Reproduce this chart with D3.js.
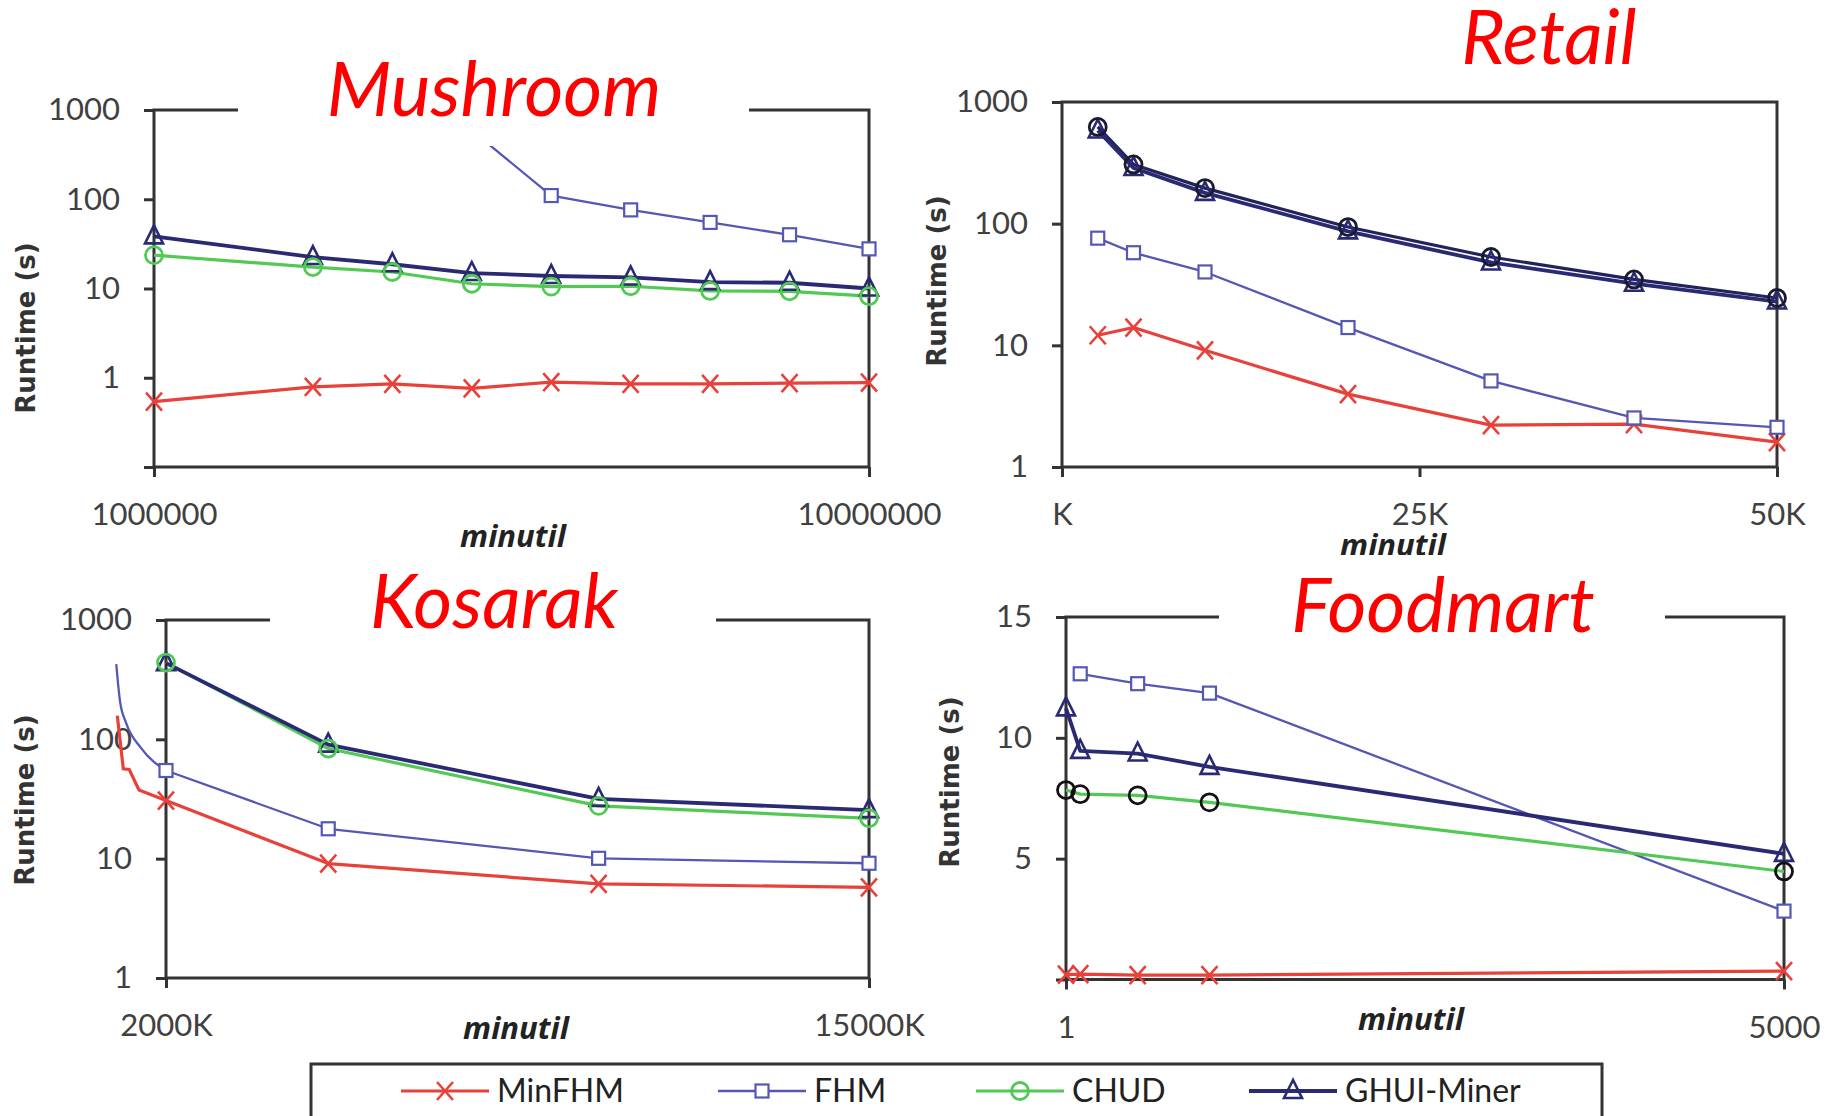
<!DOCTYPE html>
<html>
<head>
<meta charset="utf-8">
<script src="https://cdn.jsdelivr.net/npm/d3@7"></script>
<style>
  body { margin: 0; background: #fff; }
  svg { display: block; }
</style>
</head>
<body>
<svg id="chart" width="1835" height="1116"></svg>
<script>
// ============= Data =============

const SERIES = ["MinFHM", "FHM", "CHUD", "GHUI-Miner"];

// Mushroom (minutil, runtime in s, log y)
const mushroomX = [1000000, 3000000, 4000000, 5000000, 6000000, 7000000, 8000000, 9000000, 10000000];
const mushroomMinFHM = [0.54, 0.79, 0.855, 0.76, 0.895, 0.855, 0.855, 0.87, 0.88];
const mushroomFHM = [null, null, null, 590, 110, 76, 55, 40, 27.8];
const mushroomCHUD = [23.6, 17.4, 15.3, 11.3, 10.5, 10.6, 9.4, 9.3, 8.2];
const mushroomGHUI = [38.4, 22.5, 18.7, 14.9, 13.8, 13.3, 11.8, 11.6, 10];
const mushroomXTicks = [1000000, 10000000];
const mushroomXTickLabels = ["1000000", "10000000"];

// Retail
const retailX = [2500, 5000, 10000, 20000, 30000, 40000, 50000];
const retailMinFHM = [12.1, 14.0, 9.1, 3.97, 2.21, 2.25, 1.6];
const retailFHM = [76, 57.7, 40.1, 14.0, 5.1, 2.53, 2.12];
const retailCHUD = [624, 307, 196, 93.8, 53.2, 34.8, 24.5];
const retailGHUI = [583, 287, 179, 86.5, 48, 32.1, 22.9];
const retailXTicks = [0, 25000, 50000];
const retailXTickLabels = ["K", "25K", "50K"];

// Kosarak (minutil in K)
const kosarakX = [2000, 5000, 10000, 15000];
const kosarakMinFHM = [30.7, 9.1, 6.15, 5.75];
const kosarakFHM = [54.8, 17.8, 10.07, 9.15];
const kosarakCHUD = [440, 83.7, 27.7, 21.8];
const kosarakGHUI = [435, 90.3, 31.7, 25.5];
// leftover strokes that run past the left axis
const kosarakMinFHMTailX = [1100, 1210, 1320, 1500, 2000];
const kosarakMinFHMTail = [158, 56.7, 55.9, 37.6, 30.7];
const kosarakFHMTailX = [1080, 1150, 1260, 1530, 2000];
const kosarakFHMTail = [426, 208, 138, 85.5, 54.8];
const kosarakXTicks = [2000, 15000];
const kosarakXTickLabels = ["2000K", "15000K"];

// Foodmart (linear y)
const foodmartX = [1, 100, 500, 1000, 5000];
const foodmartMinFHM = [0.2, 0.22, 0.18, 0.18, 0.35];
const foodmartFHM = [null, 12.65, 12.24, 11.85, 2.83];
const foodmartCHUD = [7.84, 7.67, 7.62, 7.33, 4.47];
const foodmartGHUI = [11.22, 9.46, 9.35, 8.8, 5.2];
const foodmartXTicks = [1, 5000];
const foodmartXTickLabels = ["1", "5000"];

const logTicks = [0.1, 1, 10, 100, 1000];
const logTickLabelsA = ["", "1", "10", "100", "1000"];
const logTicksB = [1, 10, 100, 1000];
const logTickLabelsB = ["1", "10", "100", "1000"];
const linTicks = [0, 5, 10, 15];
const linTickLabels = ["", "5", "10", "15"];

// ============= Styles =============

const COLORS = {
  MinFHM: "#e8413b",
  FHM: "#5457b4",
  CHUD: "#52c955",
  "GHUI-Miner": "#2a2a74",
};
const LINE_WIDTH = { MinFHM: 3.2, FHM: 2.3, CHUD: 3.2, "GHUI-Miner": 3.8 };
const MARKER = { MinFHM: "cross", FHM: "square", CHUD: "circle", "GHUI-Miner": "triangle" };
const AXIS_COLOR = "#333";
const TEXT_COLOR = "#404040";
const TICK_FONT = "Lato, 'Open Sans', sans-serif";

const panels = [
  {
    title: "Mushroom", titleX: 494, titleY: 116,
    titleBox: [238, 40, 749, 146],
    frame: { left: 154, right: 869, top: 110, bottom: 467 },
    xDomain: [1000000, 10000000], xTicks: mushroomXTicks, xTickLabels: mushroomXTickLabels,
    yLog: true, yDomain: [0.1, 1000], yTicks: logTicks, yTickLabels: logTickLabelsA,
    xLabel: [513, 536], yLabel: [26, 328],
    x: mushroomX,
    series: { MinFHM: mushroomMinFHM, FHM: mushroomFHM, CHUD: mushroomCHUD, "GHUI-Miner": mushroomGHUI },
  },
  {
    title: "Retail", titleX: 1549, titleY: 64,
    titleBox: null,
    frame: { left: 1062, right: 1777, top: 102, bottom: 467 },
    xDomain: [0, 50000], xTicks: retailXTicks, xTickLabels: retailXTickLabels,
    yLog: true, yDomain: [1, 1000], yTicks: logTicksB, yTickLabels: logTickLabelsB,
    xLabel: [1393, 545], yLabel: [937, 281],
    chudLine: "#23235c", chudMarker: "#1a1a2e",
    x: retailX,
    series: { MinFHM: retailMinFHM, FHM: retailFHM, CHUD: retailCHUD, "GHUI-Miner": retailGHUI },
  },
  {
    title: "Kosarak", titleX: 494, titleY: 628,
    titleBox: [270, 555, 716, 655],
    frame: { left: 166, right: 869, top: 620, bottom: 978 },
    xDomain: [2000, 15000], xTicks: kosarakXTicks, xTickLabels: kosarakXTickLabels,
    yLog: true, yDomain: [1, 1000], yTicks: logTicksB, yTickLabels: logTickLabelsB,
    xLabel: [516, 1028], yLabel: [25, 800],
    x: kosarakX,
    series: { MinFHM: kosarakMinFHM, FHM: kosarakFHM, CHUD: kosarakCHUD, "GHUI-Miner": kosarakGHUI },
    tails: [
      { name: "MinFHM", x: kosarakMinFHMTailX, y: kosarakMinFHMTail, curve: d3.curveLinear },
      { name: "FHM", x: kosarakFHMTailX, y: kosarakFHMTail, curve: d3.curveMonotoneX },
    ],
  },
  {
    title: "Foodmart", titleX: 1443, titleY: 632,
    titleBox: [1219, 555, 1665, 655],
    frame: { left: 1066, right: 1784, top: 617, bottom: 979.5 },
    xDomain: [1, 5000], xTicks: foodmartXTicks, xTickLabels: foodmartXTickLabels,
    yLog: false, yDomain: [0, 15], yTicks: linTicks, yTickLabels: linTickLabels,
    xLabel: [1411, 1019], yLabel: [950, 782],
    chudMarker: "#111",
    x: foodmartX,
    series: { MinFHM: foodmartMinFHM, FHM: foodmartFHM, CHUD: foodmartCHUD, "GHUI-Miner": foodmartGHUI },
  },
];

// ============= Helpers =============

const svg = d3.select("#chart");
svg.append("rect").attr("width", 1835).attr("height", 1116).attr("fill", "#fff");

/**
 * Draws one marker of a given shape centred on (0,0) inside g
 */
const drawMarker = (g, shape, color) => {
  if (shape === "cross") {
    g.append("path").attr("d", "M-8,-9L8,9M-8,9L8,-9")
      .attr("stroke", color).attr("stroke-width", 2.6).attr("fill", "none");
  } else if (shape === "square") {
    g.append("rect").attr("x", -6.5).attr("y", -6.5).attr("width", 13).attr("height", 13)
      .attr("stroke", color).attr("stroke-width", 2.2).attr("fill", "#fff");
  } else if (shape === "circle") {
    g.append("circle").attr("r", 8.5)
      .attr("stroke", color).attr("stroke-width", 2.8).attr("fill", "none");
  } else {
    g.append("path").attr("d", "M0,-11L-9,7L9,7Z")
      .attr("stroke", color).attr("stroke-width", 2.6).attr("fill", "none");
  }
};

/**
 * Draws a complete panel: frame, axes, lines, markers, title
 */
const drawPanel = (cfg) => {
  const { left, right, top, bottom } = cfg.frame;
  const g = svg.append("g");

  const xScale = d3.scaleLinear().domain(cfg.xDomain).range([left, right]);
  const yScale = (cfg.yLog ? d3.scaleLog() : d3.scaleLinear()).domain(cfg.yDomain).range([bottom, top]);

  // Y-axis ticks and labels
  const yAxis = g.append("g").attr("transform", `translate(${left},0)`)
    .call(d3.axisLeft(yScale).tickValues(cfg.yTicks).tickSize(10).tickPadding(24)
      .tickFormat((d, i) => cfg.yTickLabels[i]));

  // X-axis ticks and labels
  const xAxis = g.append("g").attr("transform", `translate(0,${bottom})`)
    .call(d3.axisBottom(xScale).tickValues(cfg.xTicks).tickSize(10).tickPadding(26)
      .tickFormat((d, i) => cfg.xTickLabels[i]));

  [xAxis, yAxis].forEach((axis) => {
    axis.select(".domain").remove();
    axis.selectAll("line").attr("stroke", AXIS_COLOR).attr("stroke-width", 3);
    axis.selectAll("text").style("font-family", TICK_FONT).style("font-size", "31px")
      .style("fill", TEXT_COLOR);
  });

  // Frame
  g.append("rect").attr("x", left).attr("y", top).attr("width", right - left).attr("height", bottom - top)
    .attr("fill", "none").attr("stroke", AXIS_COLOR).attr("stroke-width", 3);

  const line = d3.line()
    .defined((d) => d.value != null)
    .x((d) => xScale(d.x))
    .y((d) => yScale(d.value));

  // Stray strokes left of the axis
  (cfg.tails || []).forEach((t) => {
    const pts = t.x.map((x, i) => ({ x, value: t.y[i] }));
    g.append("path").datum(pts)
      .attr("d", line.curve(t.curve))
      .attr("fill", "none").attr("stroke", COLORS[t.name]).attr("stroke-width", LINE_WIDTH[t.name]);
  });
  line.curve(d3.curveLinear);

  const lineColor = (name) => (name === "CHUD" && cfg.chudLine ? cfg.chudLine : COLORS[name]);
  const markerColor = (name) => (name === "CHUD" && cfg.chudMarker ? cfg.chudMarker : COLORS[name]);

  // Lines
  SERIES.forEach((name) => {
    const pts = cfg.x.map((x, i) => ({ x, value: cfg.series[name][i] }));
    g.append("path").datum(pts)
      .attr("d", line)
      .attr("fill", "none")
      .attr("stroke", lineColor(name))
      .attr("stroke-width", LINE_WIDTH[name])
      .attr("stroke-linejoin", "round");
  });

  // Markers
  ["MinFHM", "FHM", "GHUI-Miner", "CHUD"].forEach((name) => {
    cfg.x.forEach((x, i) => {
      const v = cfg.series[name][i];
      if (v == null) return;
      const m = g.append("g").attr("transform", `translate(${xScale(x)},${yScale(v)})`);
      drawMarker(m, MARKER[name], markerColor(name));
    });
  });

  // White box behind the title, cutting the top border
  if (cfg.titleBox) {
    const [x0, y0, x1, y1] = cfg.titleBox;
    g.append("rect").attr("x", x0).attr("y", y0).attr("width", x1 - x0).attr("height", y1 - y0)
      .attr("fill", "#fff");
  }

  g.append("text")
    .attr("x", cfg.titleX).attr("y", cfg.titleY)
    .attr("text-anchor", "middle")
    .style("font-family", TICK_FONT).style("font-style", "italic")
    .style("font-size", "75px").style("fill", "#ff0000")
    .text(cfg.title);

  // Axis titles
  g.append("text")
    .attr("x", cfg.xLabel[0]).attr("y", cfg.xLabel[1]).attr("dy", "0.35em")
    .attr("text-anchor", "middle")
    .style("font-family", "'Open Sans', sans-serif").style("font-weight", "bold").style("font-style", "italic")
    .style("font-size", "31px").style("fill", "#222")
    .text("minutil");

  g.append("text")
    .attr("transform", `translate(${cfg.yLabel[0]},${cfg.yLabel[1]}) rotate(-90)`)
    .attr("dy", "0.35em")
    .attr("text-anchor", "middle")
    .style("font-family", "'DejaVu Sans', sans-serif").style("font-weight", "bold")
    .style("font-size", "26px").style("fill", "#333")
    .text("Runtime (s)");
};

panels.forEach(drawPanel);

// ============= Legend =============

const legendStarts = [401, 718, 976, 1249];
const legend = svg.append("g");
legend.append("rect").attr("x", 311).attr("y", 1064).attr("width", 1291).attr("height", 80)
  .attr("fill", "#fff").attr("stroke", AXIS_COLOR).attr("stroke-width", 3);

SERIES.forEach((name, i) => {
  const x0 = legendStarts[i];
  const cy = 1091;
  legend.append("line").attr("x1", x0).attr("x2", x0 + 88).attr("y1", cy).attr("y2", cy)
    .attr("stroke", COLORS[name]).attr("stroke-width", LINE_WIDTH[name]);
  const m = legend.append("g").attr("transform", `translate(${x0 + 44},${cy})`);
  drawMarker(m, MARKER[name], COLORS[name]);
  legend.append("text").attr("x", x0 + 96).attr("y", cy).attr("dy", "0.35em")
    .style("font-family", TICK_FONT).style("font-size", "32px").style("fill", "#222")
    .text(name);
});
</script>
</body>
</html>
